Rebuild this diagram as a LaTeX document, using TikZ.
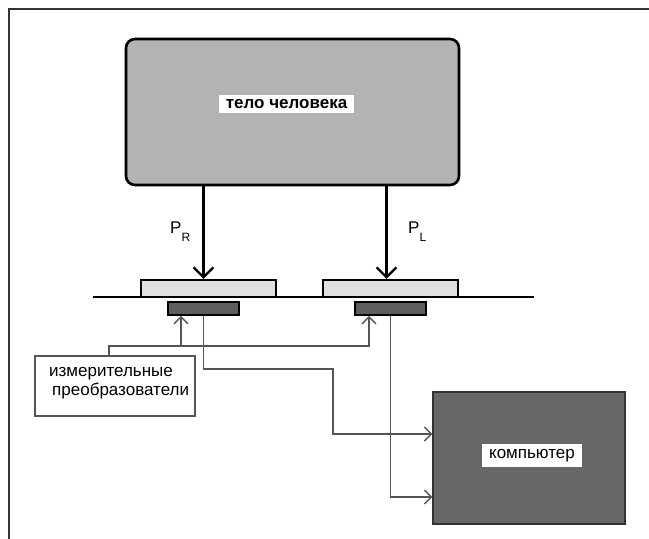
\documentclass[tikz,border=0pt]{standalone}
\usepackage{fontspec}
\setmainfont{Liberation Sans}
\usetikzlibrary{arrows.meta,calc}
\definecolor{bodyfill}{HTML}{B3B3B3}
\definecolor{platefill}{HTML}{E0E0E0}
\definecolor{sensfill}{HTML}{5E5E5E}
\definecolor{compfill}{HTML}{676767}
\definecolor{wirecol}{HTML}{555555}
\definecolor{framecol}{HTML}{333333}
\tikzset{
  bodybox/.style={draw=black, line width=2.6pt, fill=bodyfill, rounded corners=9pt, minimum width=333pt, minimum height=146pt, inner sep=0pt},
  platebox/.style={draw=black, line width=2.2pt, fill=platefill, minimum width=135pt, minimum height=17pt, inner sep=0pt},
  sensbox/.style={draw=black, line width=1.6pt, fill=sensfill, minimum width=71pt, minimum height=13pt, inner sep=0pt},
  measbox/.style={draw=wirecol, line width=1.3pt, fill=white, minimum width=160pt, minimum height=60pt, inner sep=0pt},
  compbox/.style={draw=framecol, line width=1.3pt, fill=compfill, minimum width=192pt, minimum height=132pt, inner sep=0pt},
  whitelabel/.style={fill=white, inner sep=0pt, font=\fontsize{17}{19}\selectfont},
  forcearrow/.style={line width=2.3pt, -{Straight Barb[length=10pt,width=20pt]}},
  wire/.style={draw=wirecol, line width=1.4pt},
  wirearrow/.style={wire, -{Straight Barb[length=7pt,width=14pt]}},
  plabel/.style={inner sep=0pt, font=\fontsize{17}{19}\selectfont},
}
\newcommand{\psub}[1]{\raisebox{-1.0ex}{\fontsize{12}{14}\selectfont #1}}
\begin{document}
\begin{tikzpicture}[x=1pt,y=-1pt]
\useasboundingbox (0,0) rectangle (649,539);
\fill[white] (0,0) rectangle (649,539);
\draw[framecol, line width=1.5pt] (9,539) -- (9,9) -- (649,9);

% body
\node[bodybox] (body) at (292.5,112) {};
\node[whitelabel, minimum width=135pt, minimum height=18pt, font=\fontsize{17}{19}\selectfont\bfseries] (bodytext) at (286.5,104) {тело человека};

% floor and plates
\coordinate (floorL) at (93,296.5);
\coordinate (floorR) at (534,296.5);
\draw[line width=2pt] (floorL) -- (floorR);
\node[platebox] (plateR) at (208.5,288.5) {};
\node[platebox] (plateL) at (390.5,288.5) {};

% sensors
\node[sensbox] (sensR) at (203.5,308.5) {};
\node[sensbox] (sensL) at (390.5,308.5) {};

% force arrows
\draw[forcearrow] ($(body.south -| sensR)$) -- ($(plateR.north -| sensR)$);
\draw[forcearrow] ($(body.south -| sensL)+(-4,0)$) -- ($(plateL.north -| sensL)+(-4,0)$);
\node[plabel, anchor=base west] (PR) at (170,233) {P\psub{R}};
\node[plabel, anchor=base west] (PL) at (408,233) {P\psub{L}};

% measuring transducers
\node[measbox] (meas) at (115,386) {};
\node[inner sep=0pt, anchor=north west, align=left, font=\fontsize{17}{19}\selectfont] (meastext) at (49,367) {измерительные\\\hspace{3pt}преобразователи};

% computer
\node[compbox] (comp) at (529,458) {};
\node[whitelabel, minimum width=100pt, minimum height=23pt] (comptext) at (532,455.5) {компьютер};

% wires
\coordinate (jr) at (181,346);
\draw[wirearrow] ($(meas.north)+(-6,0)$) |- (jr) -| ($(sensL.south)+(-21.5,0)$);
\draw[wirearrow] (jr) -- ($(sensR.south)+(-22.5,0)$);
\coordinate (bend1) at (333,369);
\draw[wirearrow] (sensR.south) |- (bend1) |- ($(comp.west)+(0,-24)$);
\draw[wirearrow] (sensL.south) |- ($(comp.west)+(0,39)$);
\end{tikzpicture}
\end{document}
